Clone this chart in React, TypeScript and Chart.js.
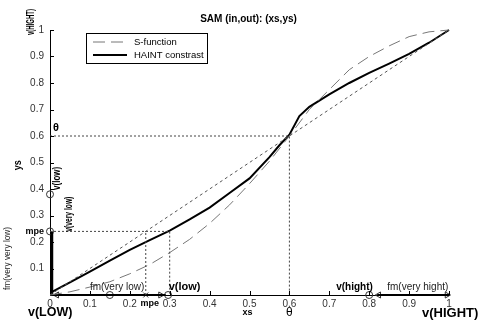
import React, { useEffect, useRef } from 'react';
import { Chart, registerables } from 'chart.js';
Chart.register(...registerables);

// S-function (dashed)
const sX = [0, 0.05, 0.1, 0.15, 0.2, 0.25, 0.3, 0.35, 0.4, 0.45, 0.5, 0.55, 0.6, 0.65, 0.7, 0.75, 0.8, 0.85, 0.9, 0.95, 1];
const sY = [0, 0.012, 0.03, 0.05, 0.08, 0.115, 0.16, 0.21, 0.27, 0.34, 0.42, 0.505, 0.6, 0.7, 0.775, 0.85, 0.9, 0.94, 0.975, 0.993, 1];
// HAINT contrast (solid)
const hX = [0.005, 0.05, 0.1, 0.15, 0.2, 0.25, 0.3, 0.35, 0.4, 0.45, 0.5, 0.55, 0.575, 0.6, 0.625, 0.65, 0.7, 0.75, 0.8, 0.85, 0.9, 0.95, 1];
const hY = [0.012, 0.048, 0.088, 0.13, 0.17, 0.207, 0.243, 0.285, 0.33, 0.385, 0.44, 0.52, 0.565, 0.605, 0.675, 0.71, 0.757, 0.8, 0.838, 0.873, 0.91, 0.952, 1];
// identity diagonal
const dX = [0, 1];
const dY = [0, 1];
// key values
const theta = 0.6;
const mpe = 0.24;
const vLow = 0.3;
const vLowY = 0.38;
const vHight = 0.8;
const vVeryLowX = 0.005;
// markers
const circleX = [0, 0, 0.15, 0.296, 0.8];
const circleY = [vLowY, mpe, 0, 0, 0];
const leftTriX = [0.017, 0.824];
const rightTriX = [0.277, 0.995];
const crossX = [mpe];
const lowBarX = [0.005, 0.29];
const highBarX = [0.82, 1];
const xTicks = [0, 0.1, 0.2, 0.3, 0.4, 0.5, 0.6, 0.7, 0.8, 0.9, 1];
const yTicks = [0.1, 0.2, 0.3, 0.4, 0.5, 0.6, 0.7, 0.8, 0.9, 1];

const pts = (xs: number[], ys: number[]) => xs.map((x, i) => ({ x, y: ys[i] }));
const FONT = '"Liberation Sans", Arial, sans-serif';

function txt(ctx: any, s: string, X: number, Y: number, font: string, color = '#000', align = 'left') {
  ctx.font = font; ctx.fillStyle = color; ctx.textAlign = align; ctx.textBaseline = 'middle';
  ctx.fillText(s, X, Y);
}
function vtxt(ctx: any, s: string, X: number, Y: number, font: string, len: number, color = '#000') {
  ctx.save();
  ctx.translate(X, Y);
  ctx.rotate(-Math.PI / 2);
  ctx.font = font;
  const w = ctx.measureText(s).width;
  ctx.scale(len / w, 1);
  ctx.textAlign = 'center'; ctx.textBaseline = 'middle'; ctx.fillStyle = color;
  ctx.fillText(s, 0, 0);
  ctx.restore();
}

const annot = {
  id: 'annot',
  afterDraw(chart: any) {
    const { ctx, scales } = chart;
    const px = (v: number) => scales.x.getPixelForValue(v);
    const py = (v: number) => scales.y.getPixelForValue(v);
    ctx.save();
    // inward ticks
    ctx.strokeStyle = '#000'; ctx.lineWidth = 1; ctx.setLineDash([]);
    xTicks.forEach(v => {
      if (v === 0) return;
      const X = Math.round(px(v)) + 0.5;
      ctx.beginPath(); ctx.moveTo(X, py(0)); ctx.lineTo(X, py(0) - 4); ctx.stroke();
    });
    yTicks.forEach(v => {
      const Y = Math.round(py(v)) + 0.5;
      ctx.beginPath(); ctx.moveTo(px(0), Y); ctx.lineTo(px(0) + 4, Y); ctx.stroke();
    });
    const x0 = px(0), y0 = py(0);
    // title
    txt(ctx, 'SAM (in,out): (xs,ys)', (px(0) + px(1)) / 2 - 1, 19, `bold 10px ${FONT}`, '#000', 'center');
    // rotated labels
    vtxt(ctx, 'v(HIGHT)', x0 - 19, py(1) - 8, `bold 10px ${FONT}`, 26);
    vtxt(ctx, 'ys', 18, py(0.49), `bold 10px ${FONT}`, 10);
    vtxt(ctx, 'v(low)', x0 + 7, py(0.44), `bold 10px ${FONT}`, 23);
    vtxt(ctx, 'v(very low)', x0 + 19, py(0.305), `bold 10px ${FONT}`, 35);
    vtxt(ctx, 'fm(very very low)', 7, py(0.138), `9.5px ${FONT}`, 63, '#222');
    // left annotations
    txt(ctx, 'θ', x0 + 6, py(theta) - 8, `bold 11px ${FONT}`, '#000', 'center');
    txt(ctx, 'mpe', x0 - 6, py(mpe), `bold 9px ${FONT}`, '#000', 'right');
    // on-axis annotations
    txt(ctx, 'fm(very low)', px(0.1), y0 - 8, `10px ${FONT}`, '#222');
    txt(ctx, 'v(low)', px(vLow) - 1, y0 - 8, `bold 11px ${FONT}`);
    txt(ctx, 'v(hight)', px(vHight) - 33, y0 - 8, `bold 10px ${FONT}`);
    txt(ctx, 'fm(very hight)', px(vHight) + 18, y0 - 8, `10px ${FONT}`, '#222');
    // below axis
    txt(ctx, 'mpe', px(mpe) + 4, y0 + 9, `bold 9px ${FONT}`, '#000', 'center');
    txt(ctx, 'v(LOW)', 28, y0 + 18, `bold 12.5px ${FONT}`);
    txt(ctx, 'xs', (px(0) + px(1)) / 2 - 2, y0 + 18, `bold 9px ${FONT}`, '#000', 'center');
    txt(ctx, 'θ', px(theta), y0 + 18, `12px ${FONT}`, '#000', 'center');
    txt(ctx, 'v(HIGHT)', 422, y0 + 18, `bold 13px ${FONT}`);
    // legend
    ctx.setLineDash([]); ctx.lineWidth = 1; ctx.strokeStyle = '#000';
    ctx.strokeRect(86.5, 33.5, 121, 30);
    ctx.strokeStyle = '#777'; ctx.setLineDash([12, 6]);
    ctx.beginPath(); ctx.moveTo(93, 42); ctx.lineTo(127, 42); ctx.stroke();
    ctx.setLineDash([]); ctx.strokeStyle = '#000'; ctx.lineWidth = 2;
    ctx.beginPath(); ctx.moveTo(93, 55); ctx.lineTo(127, 55); ctx.stroke();
    txt(ctx, 'S-function', 134, 42, `9.5px ${FONT}`, '#000');
    txt(ctx, 'HAINT constrast', 134, 55, `9.5px ${FONT}`, '#000');
    ctx.restore();
  },
};

export default function App() {
  const ref = useRef<HTMLCanvasElement | null>(null);
  useEffect(() => {
    if (!ref.current) return;
    const line = (data: any[], color: string, width: number, dash: number[] = []) => ({
      data, showLine: true, borderColor: color, borderWidth: width, borderDash: dash,
      pointRadius: 0, fill: false, tension: 0, clip: false,
    });
    const marker = (data: any[], style: string, rotation = 0) => ({
      data, showLine: false, pointStyle: style, pointRadius: 3.5, rotation,
      pointBorderColor: '#333', pointBackgroundColor: 'rgba(255,255,255,0)', pointBorderWidth: 1, clip: false,
    });
    const chart = new Chart(ref.current, {
      type: 'scatter',
      data: {
        datasets: [
          line(pts(dX, dY), '#555', 1, [3, 3]),
          line([{ x: 0, y: theta }, { x: theta, y: theta }, { x: theta, y: 0 }], '#444', 1, [2, 2]),
          line([{ x: 0, y: mpe }, { x: vLow, y: mpe }, { x: vLow, y: 0 }], '#444', 1, [2, 2]),
          line([{ x: mpe, y: 0 }, { x: mpe, y: mpe }], '#444', 1, [2, 2]),
          line(pts(sX, sY), '#777', 1, [12, 6]),
          line(pts(hX, hY), '#000', 2),
          line([{ x: vVeryLowX, y: 0 }, { x: vVeryLowX, y: mpe }], '#000', 2.5),
          line(pts(lowBarX, [0, 0]), '#000', 2),
          line(pts(highBarX, [0, 0]), '#000', 2),
          marker(pts(circleX, circleY), 'circle'),
          marker(pts(leftTriX, [0, 0]), 'triangle', -90),
          marker(pts(rightTriX, [0, 0]), 'triangle', 90),
          marker(pts(crossX, [0]), 'crossRot'),
        ],
      },
      options: {
        responsive: false,
        animation: false,
        layout: { padding: { top: 30, right: 36, left: 0, bottom: 0 } },
        plugins: { legend: { display: false }, tooltip: { enabled: false }, title: { display: false } },
        scales: {
          x: {
            type: 'linear', min: 0, max: 1,
            afterFit: (s: any) => { s.height = 28; },
            grid: { display: false, drawTicks: false },
            border: { display: true, color: '#000', width: 1 },
            ticks: {
              stepSize: 0.1, autoSkip: false, maxRotation: 0, padding: 3,
              color: '#333', font: { family: FONT, size: 10 },
              callback: (v: any) => { const r = Math.round(v * 10) / 10; return r === 0 ? '0' : r === 1 ? '1' : r.toFixed(1); },
            },
          },
          y: {
            type: 'linear', min: 0, max: 1,
            afterFit: (s: any) => { s.width = 50; },
            grid: { display: false, drawTicks: false },
            border: { display: true, color: '#000', width: 1 },
            ticks: {
              stepSize: 0.1, autoSkip: false, padding: 6,
              color: '#333', font: { family: FONT, size: 10 },
              callback: (v: any) => { const r = Math.round(v * 10) / 10; return r === 0 ? '' : r === 1 ? '1' : r.toFixed(1); },
            },
          },
        },
      } as any,
      plugins: [annot as any],
    });
    return () => chart.destroy();
  }, []);
  return (
    <div style={{ position: 'absolute', left: 0, top: 0, width: 485, height: 323, background: '#fff' }}>
      <canvas ref={ref} width={485} height={323} />
    </div>
  );
}
